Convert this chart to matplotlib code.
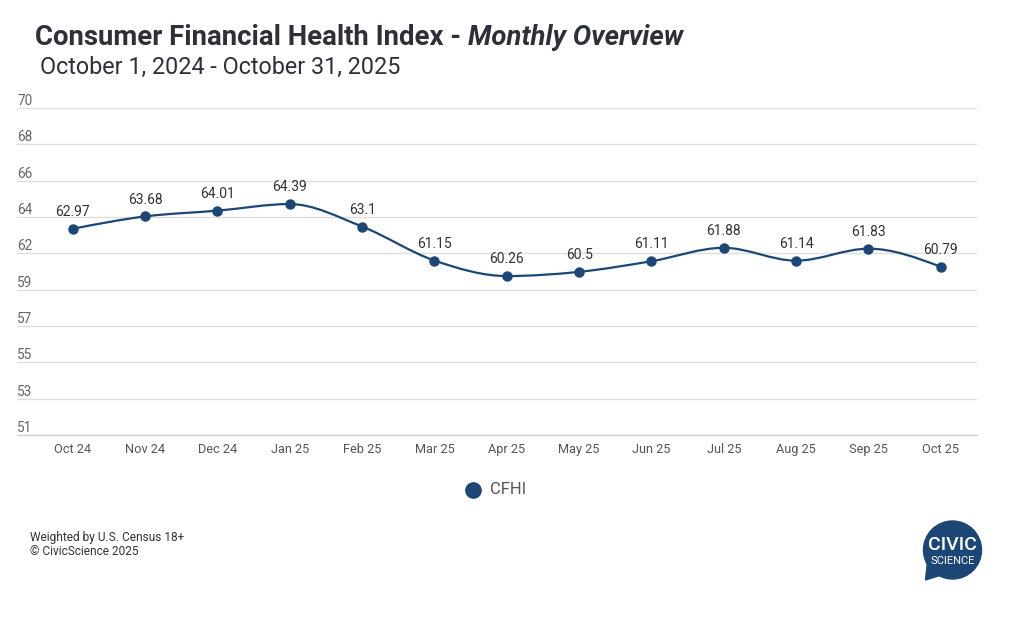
import matplotlib
matplotlib.use('Agg')
import matplotlib.pyplot as plt
from matplotlib.path import Path
import matplotlib.patches as mpatches
import numpy as np

plt.rcParams['font.family'] = ['Roboto', 'DejaVu Sans']

months = ['Oct 24', 'Nov 24', 'Dec 24', 'Jan 25', 'Feb 25', 'Mar 25', 'Apr 25',
          'May 25', 'Jun 25', 'Jul 25', 'Aug 25', 'Sep 25', 'Oct 25']
cfhi = [62.97, 63.68, 64.01, 64.39, 63.1, 61.15, 60.26, 60.5, 61.11, 61.88, 61.14, 61.83, 60.79]
y_min, y_max = 51.14, 69.9

navy = '#1c4676'
grey_txt = '#555555'

fig = plt.figure(figsize=(10.24, 6.31), dpi=100)
ax = fig.add_axes([17/1024, 1 - 435/631, (977 - 17)/1024, (435 - 108)/631])

x = np.arange(len(cfhi))
y = np.array(cfhi)


# monotone-x smoothing of the line (like d3 curveMonotoneX), drawn as bezier path
def tangents(xs, ys):
    n = len(xs)
    h = np.diff(xs)
    s = np.diff(ys) / h
    t = np.zeros(n)
    for i in range(1, n - 1):
        p = (s[i-1] * h[i] + s[i] * h[i-1]) / (h[i-1] + h[i])
        t[i] = (np.sign(s[i-1]) + np.sign(s[i])) * min(abs(s[i-1]), abs(s[i]), 0.5 * abs(p))
    t[0] = (3 * s[0] - t[1]) / 2
    t[-1] = (3 * s[-1] - t[-2]) / 2
    return t


t = tangents(x, y)
verts = [(x[0], y[0])]
codes = [Path.MOVETO]
for i in range(len(x) - 1):
    dx = (x[i+1] - x[i]) / 3
    verts += [(x[i] + dx, y[i] + t[i] * dx), (x[i+1] - dx, y[i+1] - t[i+1] * dx), (x[i+1], y[i+1])]
    codes += [Path.CURVE4] * 3
ax.add_patch(mpatches.PathPatch(Path(verts, codes), fill=False, edgecolor=navy, lw=1.6, zorder=3))
ax.plot(x, y, 'o', color=navy, ms=6.5, zorder=4)

for xi, yi in zip(x, cfhi):
    ax.annotate(f'{yi:g}', (xi, yi), xytext=(0, 7), textcoords='offset points',
                ha='center', va='bottom', fontsize=10, color='#333333')

ax.set_xlim(-0.77, 12.5)
ax.set_ylim(y_min, y_max)
yt = np.linspace(y_min, y_max, 10)
ax.set_yticks(yt)
ax.yaxis.grid(True, color='#dddddd', lw=1)
ax.tick_params(axis='y', length=0, labelleft=False)
for v in yt:
    ax.text(0, v, f'{v:.0f}', transform=ax.get_yaxis_transform(), ha='left', va='bottom',
            fontsize=9.8, color='#666666')
ax.set_xticks(x)
ax.set_xticklabels(months, fontsize=9.2, color=grey_txt)
ax.tick_params(axis='x', length=0, pad=6)
for sp in ['top', 'right', 'left']:
    ax.spines[sp].set_visible(False)
ax.spines['bottom'].set_color('#cccccc')
ax.set_axisbelow(True)

# titles
t1 = fig.text(35/1024, 1 - 45/631, 'Consumer Financial Health Index - ', fontsize=19.8,
              fontweight='bold', color='#2d3039')
fig.canvas.draw()
bb = t1.get_window_extent()
fig.text(bb.x1 / 1024, 1 - 45/631, 'Monthly Overview', fontsize=19.8, fontweight='bold',
         fontstyle='italic', color='#2d3039')
fig.text(40/1024, 1 - 74/631, 'October 1, 2024 - October 31, 2025', fontsize=16.8, color='#2d3039')

# legend
fig.add_artist(plt.Line2D([473/1024], [1 - 490/631], marker='o', ms=11, color=navy, lw=0))
fig.text(490/1024, 1 - 490/631, 'CFHI', fontsize=12, color=grey_txt, va='center')

# footer
fig.text(30/1024, 1 - 541/631, 'Weighted by U.S. Census 18+', fontsize=8.6, color='#333333')
fig.text(30/1024, 1 - 555/631, '\u00a9 CivicScience 2025', fontsize=8.6, color='#333333')

# logo
tr = fig.dpi_scale_trans
cx, cy = 9.525, (631 - 550) / 100
fig.add_artist(mpatches.Circle((cx, cy), 0.29, transform=tr, color=navy))
fig.add_artist(mpatches.Polygon([(cx - 0.25, cy - 0.12), (cx - 0.27, cy - 0.30), (cx - 0.08, cy - 0.24)],
                                transform=tr, color=navy))
fig.text(cx, cy + 0.05, 'CIVIC', transform=tr, ha='center', va='center', fontsize=14,
         fontweight='medium', color='white')
fig.text(cx, cy - 0.11, 'SCIENCE', transform=tr, ha='center', va='center', fontsize=8,
         color='white')

fig.savefig('out.png', dpi=100, facecolor='white')
